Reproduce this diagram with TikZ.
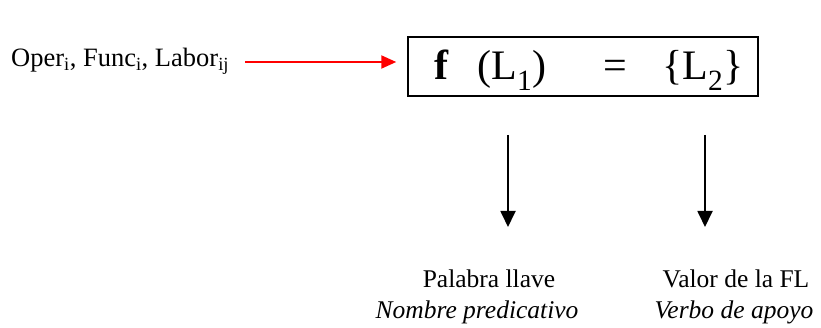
\documentclass[tikz,border=0pt]{standalone}
\usepackage{fontspec}
\setmainfont{Liberation Serif}
\usetikzlibrary{arrows.meta}
\tikzset{
  lbl/.style={inner sep=0pt, font=\fontsize{25.5}{30}\selectfont},
  big/.style={inner sep=0pt, font=\fontsize{42}{48}\selectfont},
  redarr/.style={draw=red, line width=2pt, -{Triangle[length=15pt,width=13pt]}},
  blkarr/.style={draw=black, line width=1.8pt, -{Triangle[length=16pt,width=15pt]}},
  frame/.style={draw=black, line width=1.5pt}
}
\begin{document}
\begin{tikzpicture}[x=1pt,y=-1pt]
\useasboundingbox (0,0) rectangle (821,328);
% left text
\node[lbl, anchor=base west, font=\fontsize{26.5}{30}\selectfont] (src) at (11,67) {Oper\textsubscript{i}, Func\textsubscript{i}, Labor\textsubscript{ij}};
% box
\node[frame, minimum width=350pt, minimum height=59pt, inner sep=0pt] (box) at (583,66.5) {};
\node[big, anchor=base] (f) at (442,80) {\textbf{f}};
\node[big, anchor=base] (l1) at (512,80) {(L\textsubscript{1})};
\node[big, anchor=base] (eq) at (615,80) {=};
\node[big, anchor=base] (l2) at (703,80) {\{L\textsubscript{2}\}};
% red arrow
\coordinate (rs) at (245,62);
\draw[redarr, shorten >=11pt] (rs) -- (box.west |- rs);
% down arrows
\coordinate (a1) at (508,135);
\coordinate (b1) at (508,227);
\coordinate (a2) at (705,135);
\coordinate (b2) at (705,227);
\draw[blkarr] (a1) -- (b1);
\draw[blkarr] (a2) -- (b2);
% labels
\node[lbl, anchor=base] (pl) at (489,288) {Palabra llave};
\node[lbl, anchor=base] (np) at (477,319) {\itshape Nombre predicativo};
\node[lbl, anchor=base] (vf) at (736,288) {Valor de la FL};
\node[lbl, anchor=base] (vb) at (734,319) {\itshape Verbo de apoyo};
\end{tikzpicture}
\end{document}
